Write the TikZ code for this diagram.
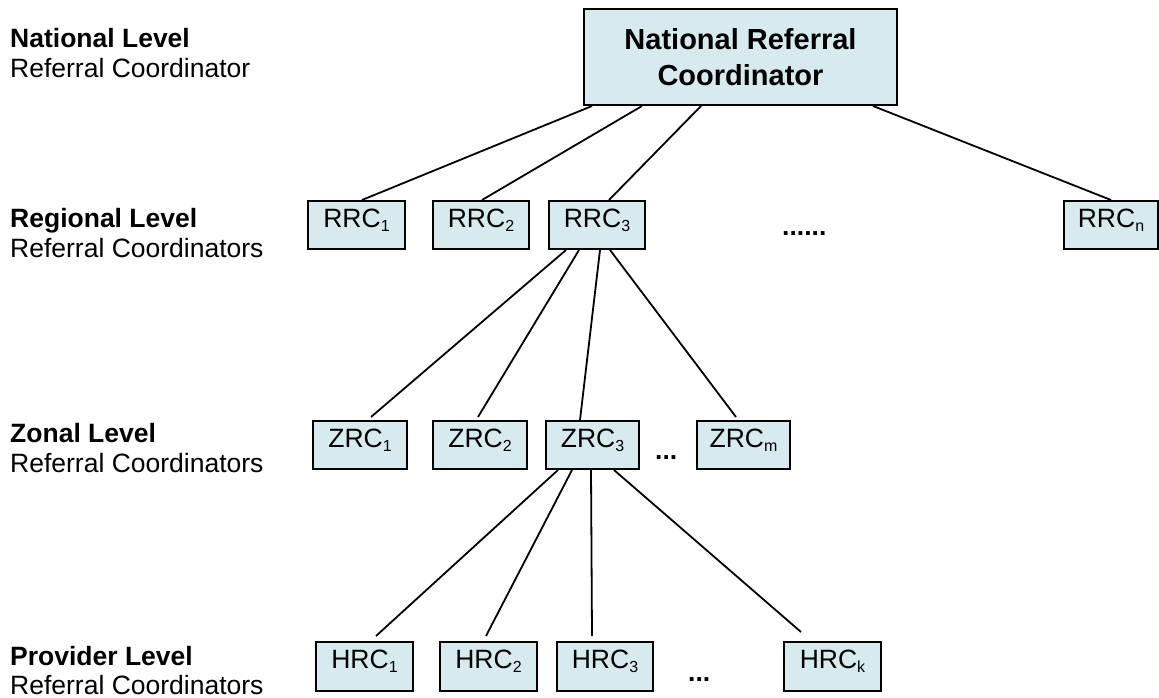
\documentclass[tikz,border=0pt]{standalone}
\usepackage{fontspec}
\setmainfont{Liberation Sans}
\definecolor{boxfill}{RGB}{215,235,238}
\newcommand{\lowidx}[1]{\raisebox{-4pt}{\fontsize{16}{16}\selectfont #1}}
\begin{document}
\begin{tikzpicture}[x=1pt,y=-1pt,
  coord/.style={draw=black,line width=2pt,fill=boxfill,inner sep=0pt,
    minimum height=48pt,text height=19pt,text depth=15pt,
    font=\fontsize{26.5}{30}\selectfont},
  link/.style={line width=1.8pt,black},
  levelhead/.style={anchor=base west,inner sep=0pt,font=\fontsize{26.5}{30}\selectfont\bfseries},
  levelsub/.style={anchor=base west,inner sep=0pt,font=\fontsize{26.5}{30}\selectfont},
  dots/.style={anchor=base west,inner sep=0pt,font=\fontsize{26.5}{30}\selectfont\bfseries}]
\useasboundingbox (0,0) rectangle (1159,698);

% level captions
\node[levelhead] (l1a) at (10,48) {National Level};
\node[levelsub]  (l1b) at (10,78) {Referral Coordinator};
\node[levelhead] (l2a) at (10,227) {Regional Level};
\node[levelsub]  (l2b) at (10,257) {Referral Coordinators};
\node[levelhead] (l3a) at (10,442) {Zonal Level};
\node[levelsub]  (l3b) at (10,472) {Referral Coordinators};
\node[levelhead] (l4a) at (10,665) {Provider Level};
\node[levelsub]  (l4b) at (10,694) {Referral Coordinators};

% national coordinator
\node[draw=black,line width=2pt,fill=boxfill,minimum width=313pt,minimum height=96pt,
  inner sep=0pt,align=center,font=\fontsize{29}{36}\selectfont\bfseries]
  (nat) at (740.5,57) {National Referral\\Coordinator};

% regional coordinators
\node[coord,minimum width=97pt] (r1) at (356.5,225) {RRC\lowidx{1}};
\node[coord,minimum width=96pt] (r2) at (481,225) {RRC\lowidx{2}};
\node[coord,minimum width=96pt] (r3) at (597,225) {RRC\lowidx{3}};
\node[coord,minimum width=94pt] (rn) at (1111,225) {RRC\lowidx{n}};
\node[dots] (rdots) at (782,235) {......};

% zonal coordinators
\node[coord,minimum width=94pt] (z1) at (360,445) {ZRC\lowidx{1}};
\node[coord,minimum width=94pt] (z2) at (480,445) {ZRC\lowidx{2}};
\node[coord,minimum width=93pt] (z3) at (592.5,445) {ZRC\lowidx{3}};
\node[coord,minimum width=93pt] (zm) at (743.5,445) {ZRC\lowidx{m}};
\node[dots] (zdots) at (655,459) {...};

% provider coordinators
\node[coord,minimum width=97pt,minimum height=49pt,text depth=16pt] (h1) at (364.5,666.5) {HRC\lowidx{1}};
\node[coord,minimum width=97pt,minimum height=49pt,text depth=16pt] (h2) at (488.5,666.5) {HRC\lowidx{2}};
\node[coord,minimum width=96pt,minimum height=49pt,text depth=16pt] (h3) at (605,666.5) {HRC\lowidx{3}};
\node[coord,minimum width=97pt,minimum height=49pt,text depth=16pt] (hk) at (832.5,666.5) {HRC\lowidx{k}};
\node[dots] (hdots) at (688,681) {...};

% national -> regional
\draw[link] ([xshift=9pt]nat.south west)   -- ([xshift=55pt]r1.north west);
\draw[link] ([xshift=59pt]nat.south west)  -- ([xshift=50pt]r2.north west);
\draw[link] ([xshift=118pt]nat.south west) -- ([xshift=61pt]r3.north west);
\draw[link] ([xshift=290pt]nat.south west) -- ([xshift=48pt]rn.north west);

% regional -> zonal
\draw[link] ([xshift=18pt]r3.south west) -- ([xshift=59pt,yshift=3pt]z1.north west);
\draw[link] ([xshift=31pt]r3.south west) -- ([xshift=46pt,yshift=3pt]z2.north west);
\draw[link] ([xshift=52pt]r3.south west) -- ([xshift=35pt]z3.north west);
\draw[link] ([xshift=62pt]r3.south west) -- ([xshift=40pt,yshift=3pt]zm.north west);

% zonal -> provider
\draw[link] ([xshift=13pt]z3.south west) -- ([xshift=61pt,yshift=5pt]h1.north west);
\draw[link] ([xshift=27pt]z3.south west) -- ([xshift=47pt,yshift=5pt]h2.north west);
\draw[link] ([xshift=46pt]z3.south west) -- ([xshift=36pt,yshift=5pt]h3.north west);
\draw[link] ([xshift=69pt]z3.south west) -- ([xshift=18pt,yshift=9pt]hk.north west);
\end{tikzpicture}
\end{document}
